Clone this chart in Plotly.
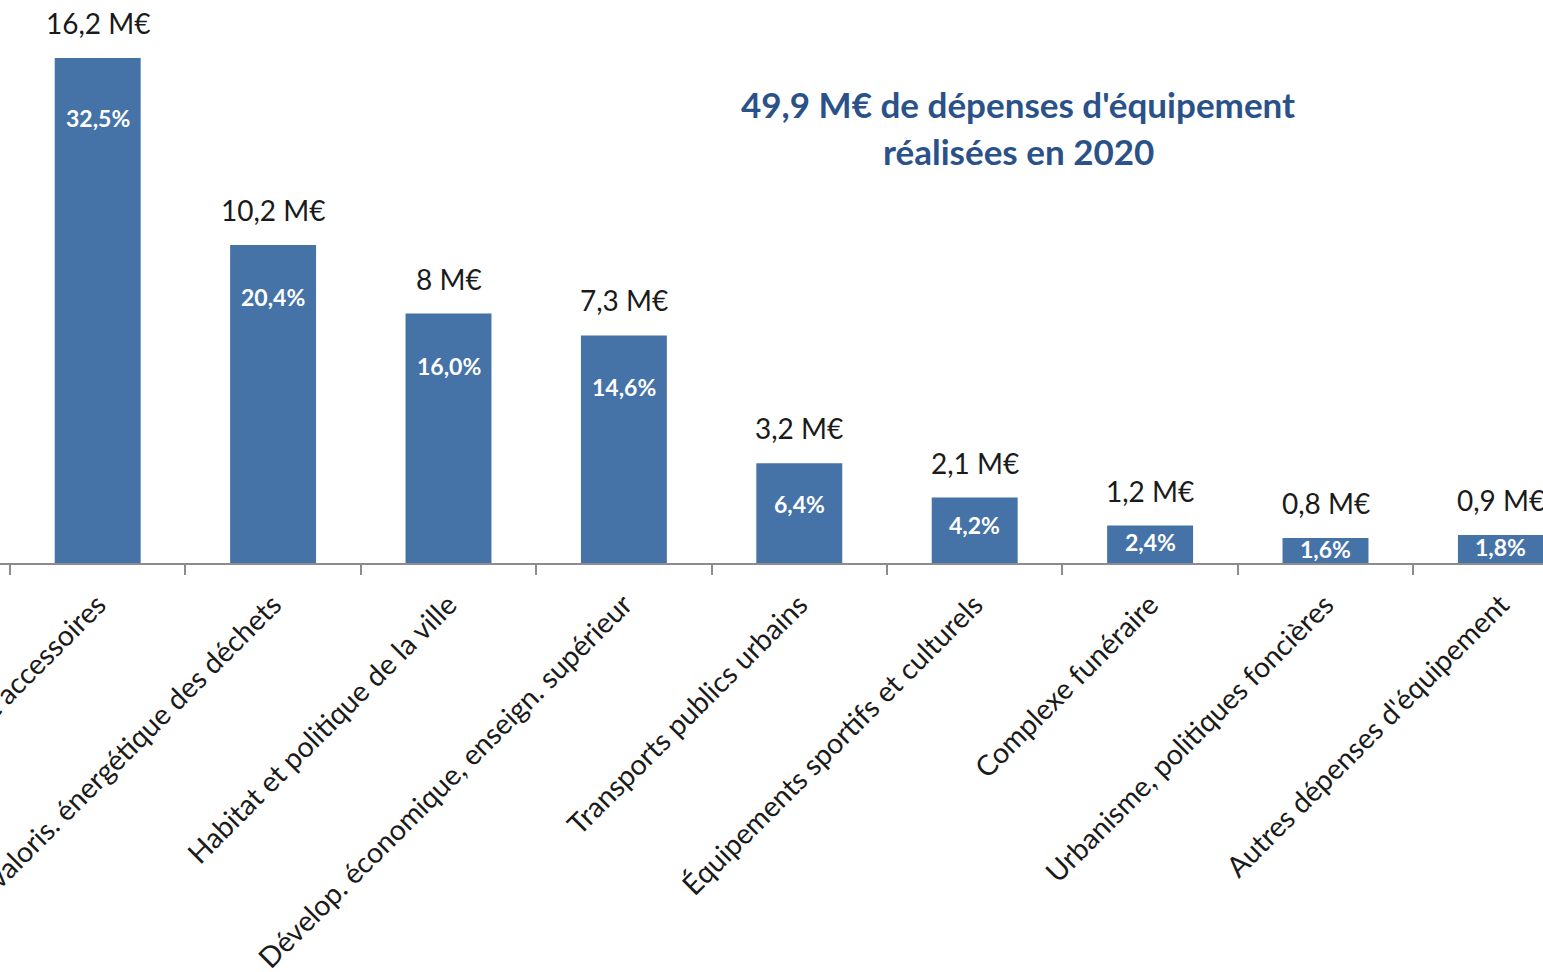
import plotly.graph_objects as go

categories = [
    "Voirie et accessoires",
    "Collecte et valoris. énergétique des déchets",
    "Habitat et politique de la ville",
    "Dévelop. économique, enseign. supérieur",
    "Transports publics urbains",
    "Équipements sportifs et culturels",
    "Complexe funéraire",
    "Urbanisme, politiques foncières",
    "Autres dépenses d'équipement",
]
values = [16.2, 10.2, 8.0, 7.3, 3.2, 2.1, 1.2, 0.8, 0.9]
value_labels = ["16,2 M€", "10,2 M€", "8 M€", "7,3 M€", "3,2 M€", "2,1 M€", "1,2 M€", "0,8 M€", "0,9 M€"]
pct_labels = ["32,5%", "20,4%", "16,0%", "14,6%", "6,4%", "4,2%", "2,4%", "1,6%", "1,8%"]
title_lines = ["49,9 M€ de dépenses d'équipement", "réalisées en 2020"]

FONT = "Lato"
BAR = "#4572A7"
TITLE = "#2A5288"
AXIS = "#8C8C8C"

W, H = 1543, 972
BASE_Y = 563
YMAX = 18.06
px_per_unit = BASE_Y / YMAX
CAT_PX = 175.4

fig = go.Figure()
fig.add_trace(go.Bar(
    x=categories,
    y=values,
    marker=dict(color=BAR, line=dict(width=0)),
    hoverinfo="skip",
))

annotations = []
for i, (c, v, vl, pl) in enumerate(zip(categories, values, value_labels, pct_labels)):
    annotations.append(dict(x=c, y=v, xref="x", yref="y", text=vl, showarrow=False,
                            yshift=35, yanchor="middle",
                            font=dict(family=FONT, size=28, color="#1a1a1a")))
    hpx = v * px_per_unit
    off = min(hpx * 0.4 + 1, 52)
    if hpx > 400:
        off = 60
    annotations.append(dict(x=c, y=v, xref="x", yref="y", text="<b>%s</b>" % pl, showarrow=False,
                            yshift=-off, yanchor="middle",
                            font=dict(family=FONT, size=23, color="white")))

title_px = [(1018, 104), (1018, 151)]
for line, (tx, ty) in zip(title_lines, title_px):
    annotations.append(dict(x=tx / W, y=(BASE_Y - ty) / BASE_Y, xref="paper", yref="paper",
                            text="<b>%s</b>" % line, showarrow=False,
                            xanchor="center", yanchor="middle",
                            font=dict(family=FONT, size=35, color=TITLE)))

x0 = -0.5 - 10 / CAT_PX
x1 = x0 + W / CAT_PX

fig.update_layout(
    width=W, height=H,
    margin=dict(l=0, r=0, t=0, b=H - BASE_Y, pad=0),
    paper_bgcolor="white", plot_bgcolor="white",
    showlegend=False,
    bargap=0.51,
    annotations=annotations,
    xaxis=dict(
        type="category",
        range=[x0, x1],
        tickangle=-45,
        tickfont=dict(family=FONT, size=28.5, color="#1a1a1a"),
        ticklabeloverflow="allow",
        ticklabelstandoff=12,
        tickson="boundaries",
        showline=True, linecolor=AXIS, linewidth=1.5,
        ticks="outside", ticklen=10, tickcolor=AXIS, tickwidth=1.5,
        showgrid=False, zeroline=False, automargin=False,
        fixedrange=True,
    ),
    yaxis=dict(range=[0, YMAX], visible=False, showgrid=False, zeroline=False, fixedrange=True),
)

fig.write_html("out.html", config={"displayModeBar": False})
